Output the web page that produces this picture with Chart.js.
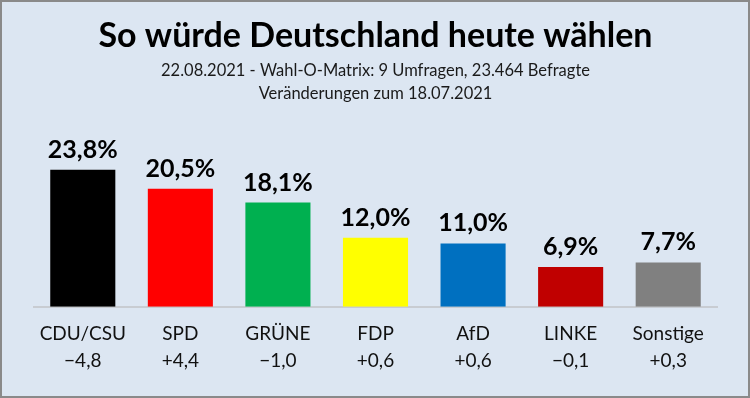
<!DOCTYPE html>
<html><head><meta charset="utf-8">
<script src="https://cdn.jsdelivr.net/npm/chart.js@4.4.1/dist/chart.umd.min.js"></script>
<style>
html,body{margin:0;padding:0;background:#dce6f2;}
#wrap{position:absolute;left:0;top:0;width:750px;height:398px;box-sizing:border-box;border:2px solid #8a8a8a;background:#dce6f2;}
#c{position:absolute;left:0;top:0;}
</style></head>
<body>
<div id="wrap"></div>
<canvas id="c" width="750" height="398"></canvas>
<script>
const parties = ["CDU/CSU","SPD","GRÜNE","FDP","AfD","LINKE","Sonstige"];
const shares = [23.8,20.5,18.1,12.0,11.0,6.9,7.7];
const changes = ["\u22124,8","+4,4","\u22121,0","+0,6","+0,6","\u22120,1","+0,3"];
const barColors = ["#000000","#ff0000","#00b050","#ffff00","#0070c0","#c00000","#808080"];
const titleText = "So würde Deutschland heute wählen";
const subtitleLines = ["22.08.2021 - Wahl-O-Matrix: 9 Umfragen, 23.464 Befragte","Veränderungen zum 18.07.2021"];

const FONT = "Lato, 'Open Sans', sans-serif";
const fmt = v => v.toFixed(1).replace('.', ',') + '%';

const valueLabels = {
  id: 'valueLabels',
  afterDatasetsDraw(chart) {
    const ctx = chart.ctx;
    const meta = chart.getDatasetMeta(0);
    ctx.save();
    ctx.font = "bold 25px " + FONT;
    ctx.fillStyle = "#000";
    ctx.textAlign = "center";
    ctx.textBaseline = "alphabetic";
    meta.data.forEach((bar, i) => {
      ctx.fillText(fmt(shares[i]), bar.x, bar.y - 12);
    });
    ctx.restore();
  }
};

new Chart(document.getElementById('c'), {
  type: 'bar',
  data: {
    labels: parties.map((p, i) => [p, changes[i]]),
    datasets: [{
      data: shares,
      backgroundColor: barColors,
      borderWidth: 0,
      categoryPercentage: 1.0,
      barPercentage: 0.667
    }]
  },
  options: {
    responsive: false,
    animation: false,
    layout: { padding: { left: 34, right: 33, top: 0, bottom: 10 } },
    scales: {
      x: {
        grid: { display: false, drawTicks: false },
        border: { display: true, color: "#c8ccd2", width: 2 },
        ticks: { color: "#111", font: { family: FONT, size: 19, lineHeight: 1.4 }, padding: 14, maxRotation: 0, autoSkip: false }
      },
      y: { display: false, min: 0, max: 30 }
    },
    plugins: {
      legend: { display: false },
      tooltip: { enabled: false },
      title: { display: true, text: titleText, color: "#000", font: { family: FONT, size: 34, weight: 'bold' }, padding: { top: 16, bottom: 2 } },
      subtitle: { display: true, text: subtitleLines, color: "#1a1a1a", font: { family: FONT, size: 16.5, lineHeight: 1.4 }, padding: { top: 0, bottom: 29 } }
    }
  },
  plugins: [valueLabels]
});
</script>
</body></html>
